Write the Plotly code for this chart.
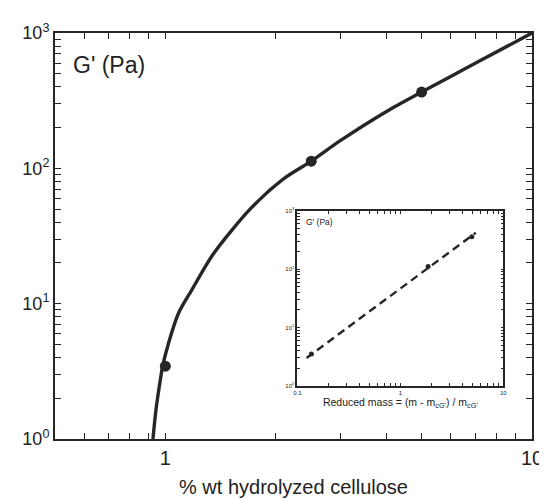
import plotly.graph_objects as go

# ---- data ----
mass_pct = [1.0, 2.5, 5.0]          # % wt hydrolyzed cellulose (measured points)
g_prime = [3.45, 113, 366]          # G' (Pa)

fit_mass = [0.925, 0.944, 0.97, 0.983, 1.021, 1.086, 1.18, 1.35, 1.71, 2.1, 2.5, 3.0, 4.0, 5.0, 7.0, 10.0]
fit_g = [1.0, 1.69, 2.79, 3.45, 5.15, 8.5, 12.6, 23.2, 50.6, 83.6, 113, 160, 262, 366, 597, 1000]

inset_r = [0.137, 1.86, 4.94]       # reduced mass
inset_g = [3.5, 111, 361]
inset_line_r = [0.123, 5.4]
inset_line_g = [3.0, 422]

# tick positions and labels (minor positions get empty labels)
main_x_major = {1: "1", 10: "10"}
main_x_ticks = [0.6, 0.7, 0.8, 0.9, 1, 2, 3, 4, 5, 6, 7, 8, 9, 10]
y_major = {1: "10<sup>0</sup>", 10: "10<sup>1</sup>", 100: "10<sup>2</sup>", 1000: "10<sup>3</sup>"}
y_ticks = [m * d for d in (1, 10, 100) for m in range(1, 10)] + [1000]
inset_x_major = {0.1: "0.1", 1: "1", 10: "10"}
inset_x_ticks = [round(m * d, 3) for d in (0.1, 1) for m in range(1, 10)] + [10]

main_x_labels = [main_x_major.get(v, "") for v in main_x_ticks]
y_labels = [y_major.get(v, "") for v in y_ticks]
inset_x_labels = [inset_x_major.get(v, "") for v in inset_x_ticks]

ink = "#262626"
font = "Liberation Sans, Arial, sans-serif"

fig = go.Figure()
fig.add_trace(go.Scatter(x=fit_mass, y=fit_g, mode="lines", line=dict(color=ink, width=3.4, shape="spline", smoothing=0.8),
                         xaxis="x", yaxis="y"))
fig.add_trace(go.Scatter(x=mass_pct, y=g_prime, mode="markers", marker=dict(color=ink, size=11),
                         xaxis="x", yaxis="y"))
fig.add_trace(go.Scatter(x=inset_line_r, y=inset_line_g, mode="lines", line=dict(color=ink, width=2.4, dash="8px,5px"),
                         xaxis="x2", yaxis="y2"))
fig.add_trace(go.Scatter(x=inset_r, y=inset_g, mode="markers", marker=dict(color=ink, size=5),
                         xaxis="x2", yaxis="y2"))

base = dict(type="log", showline=True, linecolor=ink, mirror="ticks", ticks="inside", tickcolor=ink,
            showgrid=False, zeroline=False)

fig.update_layout(
    width=547, height=499, showlegend=False,
    margin=dict(l=47, r=15, t=25, b=60),
    paper_bgcolor="white", plot_bgcolor="white",
    font=dict(family=font, color="#222"),
    xaxis=dict(**base, domain=[0, 1], range=[-0.301, 1], linewidth=2, ticklen=6, tickwidth=1.3,
               tickvals=main_x_ticks, ticktext=main_x_labels, tickfont=dict(size=20),
               title=dict(text="% wt hydrolyzed cellulose", font=dict(size=20), standoff=12)),
    yaxis=dict(**base, domain=[0, 1], range=[0, 3], linewidth=2, ticklen=6, tickwidth=1.3,
               tickvals=y_ticks, ticktext=y_labels, tickfont=dict(size=18)),
    xaxis2=dict(**base, domain=[0.508, 0.94], anchor="y2", range=[-1, 1], linewidth=1.5, ticklen=3, tickwidth=1,
                tickvals=inset_x_ticks, ticktext=inset_x_labels, tickfont=dict(size=6),
                title=dict(text="Reduced mass = (m - m<sub>cG'</sub>) / m<sub>cG'</sub>", font=dict(size=10.5), standoff=1)),
    yaxis2=dict(**base, domain=[0.131, 0.562], anchor="x2", range=[0, 3], linewidth=1.5, ticklen=3, tickwidth=1,
                tickvals=y_ticks, ticktext=y_labels, tickfont=dict(size=6)),
    annotations=[
        dict(text="G' (Pa)", xref="paper", yref="paper", x=0.034, y=0.92, xanchor="left", yanchor="middle",
             showarrow=False, font=dict(size=23, family=font, color="#222")),
        dict(text="G' (Pa)", xref="paper", yref="paper", x=0.522, y=0.534, xanchor="left", yanchor="middle",
             showarrow=False, font=dict(size=8.5, family=font, color="#222")),
    ],
)

fig.write_html("out.html")
